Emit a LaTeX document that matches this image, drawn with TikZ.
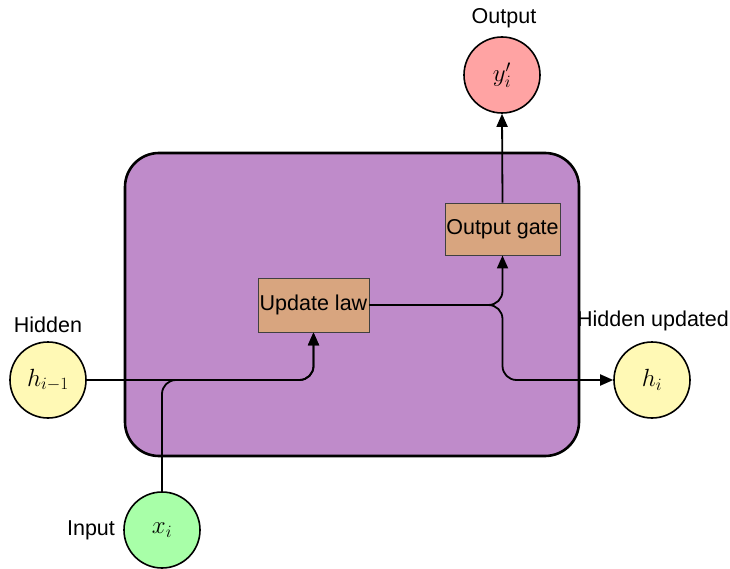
\documentclass[tikz,border=0pt]{standalone}
\usepackage{fontspec}
\setmainfont{Liberation Sans}
\usetikzlibrary{arrows.meta}
\definecolor{cellpurple}{HTML}{BF8BCA}
\definecolor{gatetan}{HTML}{D8A57F}
\definecolor{outred}{HTML}{FFA3A3}
\definecolor{hidyellow}{HTML}{FFF9B5}
\definecolor{ingreen}{HTML}{A8FFA8}
\begin{document}
\begin{tikzpicture}[x=1pt,y=-1pt,
  every node/.style={font=\fontsize{21.5}{25}\selectfont},
  cellbox/.style={draw, line width=2.6pt, rounded corners=34pt, fill=cellpurple, minimum width=454pt, minimum height=303pt, inner sep=0pt},
  opbox/.style={draw=black!75, line width=0.9pt, fill=gatetan, inner sep=0pt},
  var/.style={circle, draw, line width=1.6pt, minimum size=76pt, inner sep=0pt, font=\fontsize{25}{30}\selectfont},
  lab/.style={inner sep=0pt},
  conn/.style={line width=1.8pt, rounded corners=14pt},
  tip/.style={-{Triangle[length=13pt,width=11pt]}}
]
\useasboundingbox (0,0) rectangle (730,569);
\node[cellbox] (cell) at (352,304.5) {};
\node[opbox, minimum width=111pt, minimum height=54pt] (upd) at (313.5,305) {Update law};
\node[opbox, minimum width=115pt, minimum height=52pt] (gate) at (502.5,229) {Output gate};
\node[var, fill=outred] (out) at (502,75) {$y'_i$};
\node[var, fill=hidyellow] (hprev) at (48,380) {$h_{i-1}$};
\node[var, fill=hidyellow] (hnew) at (652,380) {$h_i$};
\node[var, fill=ingreen] (xin) at (162,530) {$x_i$};
\node[lab] (lout) at (504,18) {Output};
\node[lab] (lhid) at (48,325) {Hidden};
\node[lab] (lhnew) at (653,321) {Hidden updated};
\node[lab] (lin) at (91,530) {Input};
\draw[conn, tip] (hprev.east) -- (upd.south |- hprev.east) -- (upd.south);
\draw[conn, tip] (xin.north) -- (xin.north |- hprev.east) -- (upd.south |- hprev.east) -- (upd.south);
\draw[conn, tip] (upd.east) -- (gate.south |- upd.east) -- (gate.south);
\draw[conn, tip] (upd.east) -- (gate.south |- upd.east) -- (gate.south |- hnew.west) -- (hnew.west);
\draw[conn, tip] (gate.north) -- (out.south);
\end{tikzpicture}
\end{document}
